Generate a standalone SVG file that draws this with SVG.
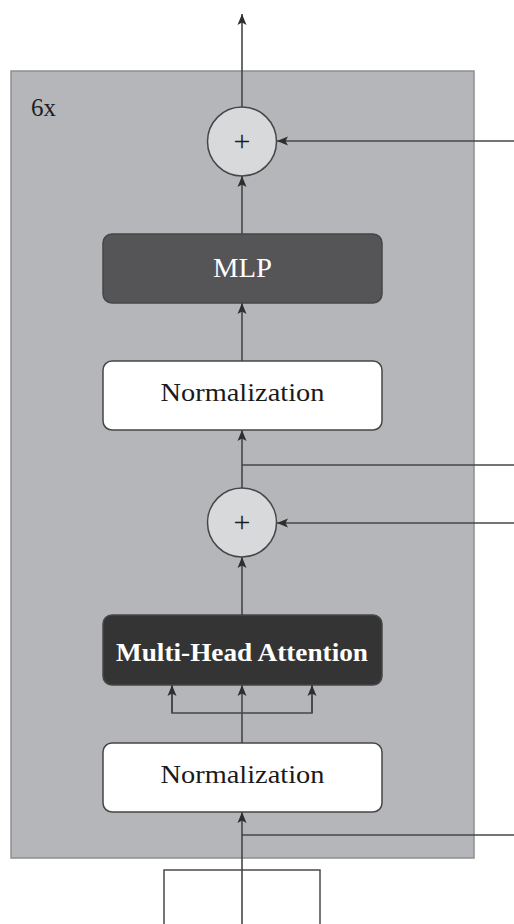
<svg xmlns="http://www.w3.org/2000/svg" width="514" height="924" viewBox="0 0 514 924">
<style>
.conn{stroke:#464646;stroke-width:1.6;fill:none}
.node{stroke:#464646;stroke-width:1.5}
.lbl{font-family:"Liberation Serif","Times New Roman",serif;text-anchor:middle}
.plus{font-family:"Liberation Serif","Times New Roman",serif;font-size:30px;text-anchor:middle;fill:#1e1e1e}
</style>
<defs>
<marker id="ah" markerUnits="userSpaceOnUse" markerWidth="12" markerHeight="12" viewBox="0 0 12 12" refX="11" refY="6" orient="auto">
<path d="M0,1.5 L11,6 L0,10.5 L2.5,6 Z" fill="#2e2e2e"/>
</marker>
</defs>
<rect width="514" height="924" fill="#ffffff"/>
<g id="block">
<rect x="11" y="71" width="463" height="787" fill="#b5b6ba" stroke="#8e8e90" stroke-width="1.5"/>
<text x="31" y="116" font-family="'Liberation Serif','Times New Roman',serif" font-size="25" fill="#1e1e1e">6x</text>
</g>
<g id="input">
<rect x="164" y="870" width="156" height="70" fill="#ffffff" stroke="#4a4a4a" stroke-width="1.5"/>
</g>
<g id="connectors">
<line class="conn" x1="242" y1="924" x2="242" y2="812" marker-end="url(#ah)"/>
<line class="conn" x1="242" y1="835" x2="514" y2="835"/>
<line class="conn" x1="242" y1="743" x2="242" y2="685" marker-end="url(#ah)"/>
<polyline class="conn" points="172,685 172,713 312,713 312,685"/>
<line class="conn" x1="172" y1="713" x2="172" y2="685" marker-end="url(#ah)"/>
<line class="conn" x1="312" y1="713" x2="312" y2="685" marker-end="url(#ah)"/>
<line class="conn" x1="242" y1="615" x2="242" y2="557" marker-end="url(#ah)"/>
<line class="conn" x1="514" y1="523" x2="277" y2="523" marker-end="url(#ah)"/>
<line class="conn" x1="242" y1="488" x2="242" y2="430" marker-end="url(#ah)"/>
<line class="conn" x1="242" y1="465" x2="514" y2="465"/>
<line class="conn" x1="242" y1="361" x2="242" y2="303" marker-end="url(#ah)"/>
<line class="conn" x1="242" y1="234" x2="242" y2="176" marker-end="url(#ah)"/>
<line class="conn" x1="514" y1="141" x2="277" y2="141" marker-end="url(#ah)"/>
<line class="conn" x1="242" y1="107" x2="242" y2="14" marker-end="url(#ah)"/>
</g>
<g id="norm1">
<rect class="node" x="103" y="743" width="279" height="69" rx="9" fill="#ffffff"/>
<text class="lbl" x="242.5" y="783" font-size="26" fill="#1a1a1a" textLength="164" lengthAdjust="spacingAndGlyphs">Normalization</text>
</g>
<g id="mha">
<rect class="node" x="103" y="615" width="279" height="70" rx="9" fill="#343434"/>
<text class="lbl" x="242" y="661" font-size="26" font-weight="bold" fill="#ffffff" textLength="252" lengthAdjust="spacingAndGlyphs">Multi-Head Attention</text>
</g>
<g id="add1">
<circle class="node" cx="242" cy="522.5" r="34.5" fill="#d8d9db"/>
<text class="plus" x="242" y="532">+</text>
</g>
<g id="norm2">
<rect class="node" x="103" y="361" width="279" height="69" rx="9" fill="#ffffff"/>
<text class="lbl" x="242.5" y="401" font-size="26" fill="#1a1a1a" textLength="164" lengthAdjust="spacingAndGlyphs">Normalization</text>
</g>
<g id="mlp">
<rect class="node" x="103" y="234" width="279" height="69" rx="9" fill="#555557"/>
<text class="lbl" x="242.5" y="277" font-size="27" fill="#ffffff" textLength="59" lengthAdjust="spacingAndGlyphs">MLP</text>
</g>
<g id="add2">
<circle class="node" cx="242" cy="141.5" r="34.5" fill="#d8d9db"/>
<text class="plus" x="242" y="151">+</text>
</g>
</svg>
